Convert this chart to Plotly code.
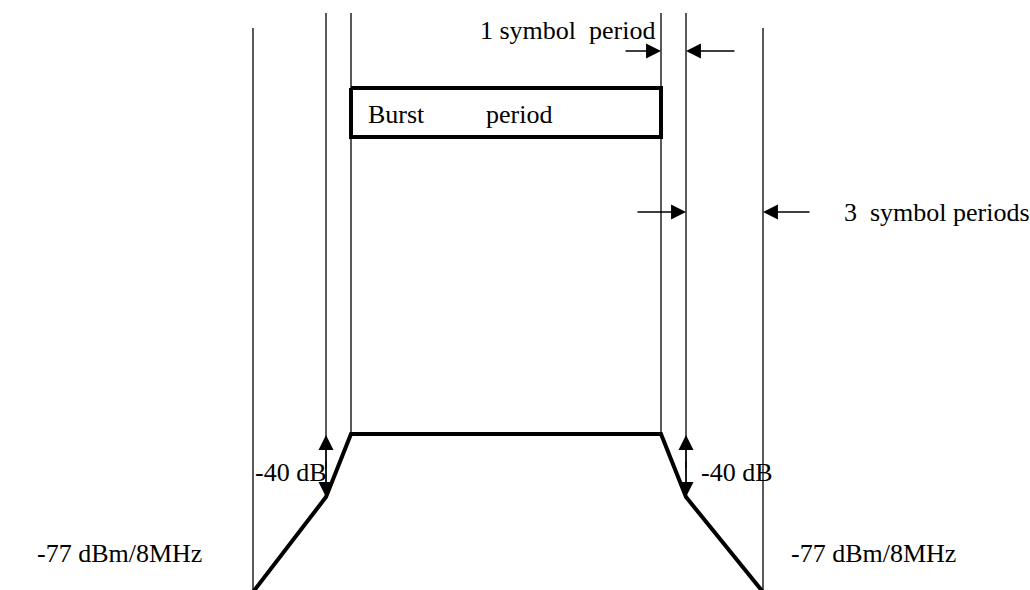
import plotly.graph_objects as go

# ---- diagram data (in the diagram's own coordinate units) ----
# spectral mask envelope (thick polyline)
mask_x = [253, 326, 351, 661, 686, 763]
mask_y = [592, 497, 434, 434, 497, 592]

# vertical time markers: x, top, bottom
marker_x = [253, 326, 351, 661, 686, 763]
marker_top = [28, 13, 13, 13, 13, 28]
marker_bottom = [592, 497, 434, 434, 497, 592]

# burst period box
burst_x = [351, 661]
burst_y = [88, 137]

# dimension arrows: (tail_x, tail_y, head_x, head_y)
arrows = [
    (624, 51, 661, 51),
    (736, 51, 686, 51),
    (636, 212, 686, 212),
    (811, 212, 763, 212),
    (326, 470, 326, 435),
    (326, 460, 326, 497),
    (686, 470, 686, 435),
    (686, 460, 686, 497),
]

# text labels: (text, x, y)
labels = [
    ("1 symbol\u00a0 period", 478, 30),
    ("Burst", 366, 114),
    ("period", 484, 114),
    ("3\u00a0 symbol periods", 842, 212),
    ("-40 dB", 253, 472),
    ("-40 dB", 699, 472),
    ("-77 dBm/8MHz", 35, 553),
    ("-77 dBm/8MHz", 789, 553),
]

FONT = dict(family="Liberation Serif, Times New Roman, serif", size=26, color="black")

fig = go.Figure()

for x, t, b in zip(marker_x, marker_top, marker_bottom):
    fig.add_trace(go.Scatter(x=[x, x], y=[t, b], mode="lines",
                             line=dict(color="black", width=1.3),
                             hoverinfo="skip", showlegend=False))

fig.add_trace(go.Scatter(x=mask_x, y=mask_y, mode="lines",
                         line=dict(color="black", width=4),
                         hoverinfo="skip", showlegend=False))

fig.add_trace(go.Scatter(
    x=[burst_x[0], burst_x[1], burst_x[1], burst_x[0], burst_x[0]],
    y=[burst_y[0], burst_y[0], burst_y[1], burst_y[1], burst_y[0]],
    mode="lines", line=dict(color="black", width=4),
    hoverinfo="skip", showlegend=False))

annotations = []
for tx, ty, hx, hy in arrows:
    annotations.append(dict(
        x=hx, y=hy, ax=tx, ay=ty, xref="x", yref="y", axref="x", ayref="y",
        text="", showarrow=True, arrowhead=2, arrowsize=2.3, arrowwidth=1.3,
        arrowcolor="black", standoff=0, startstandoff=0))

for text, x, y in labels:
    annotations.append(dict(
        x=x, y=y, xref="x", yref="y", text=text, showarrow=False,
        xanchor="left", yanchor="middle", font=FONT))

fig.update_layout(
    width=1030, height=590,
    margin=dict(l=0, r=0, t=0, b=0),
    paper_bgcolor="white", plot_bgcolor="white",
    xaxis=dict(range=[0, 1030], visible=False, fixedrange=True),
    yaxis=dict(range=[590, 0], visible=False, fixedrange=True),
    annotations=annotations,
    showlegend=False,
)

fig.write_html(
    "out.html",
    config={"displayModeBar": False},
    post_script="document.body.style.margin='0';document.body.style.overflow='hidden';",
)
